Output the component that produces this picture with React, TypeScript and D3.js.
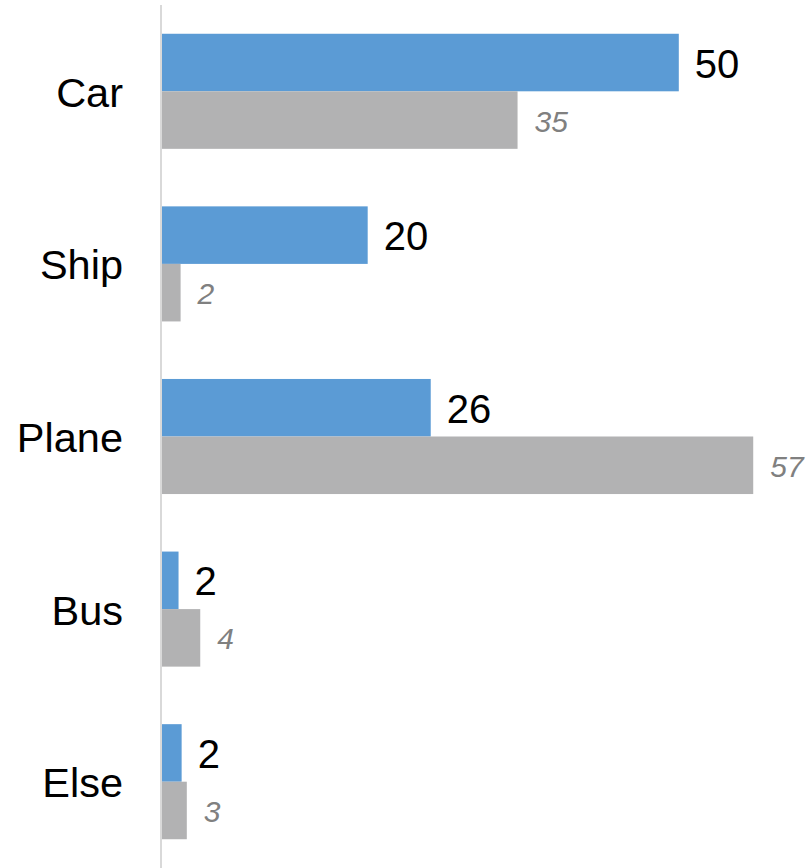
import React from "react";
import * as d3 from "d3";

const categories = ["Car", "Ship", "Plane", "Bus", "Else"];
const primaryValues = [50, 19.9, 26, 1.6, 1.9];
const primaryLabels = ["50", "20", "26", "2", "2"];
const secondaryValues = [34.4, 1.8, 57.2, 3.7, 2.4];
const secondaryLabels = ["35", "2", "57", "4", "3"];

const W = 808;
const H = 868;
const FONT = "'Liberation Sans', Arial, sans-serif";

export default function App() {
  const y = d3
    .scaleBand<string>()
    .domain(categories)
    .range([5, 868])
    .paddingInner(1 / 3)
    .paddingOuter(1 / 6);
  const x = d3.scaleLinear().domain([0, 62.5]).range([162, 808]);
  const bh = y.bandwidth() / 2;

  return (
    <div style={{ position: "absolute", left: 0, top: 0 }}>
      <svg width={W} height={H} style={{ display: "block", background: "#fff" }}>
        {categories.map((c, i) => {
          const y0 = y(c) as number;
          return (
            <g key={c}>
              <rect x={x(0)} y={y0} width={x(primaryValues[i]) - x(0)} height={bh} fill="#5b9bd5" />
              <rect x={x(0)} y={y0 + bh} width={x(secondaryValues[i]) - x(0)} height={bh} fill="#b2b2b3" />
              <text
                x={x(primaryValues[i]) + 16}
                y={y0 + bh / 2 + 1}
                dominantBaseline="central"
                fontFamily={FONT}
                fontSize={40}
                fill="#000"
              >
                {primaryLabels[i]}
              </text>
              <text
                x={x(secondaryValues[i]) + 17}
                y={y0 + bh * 1.5 + 1}
                dominantBaseline="central"
                fontFamily={FONT}
                fontSize={30}
                fontStyle="italic"
                fill="#808080"
              >
                {secondaryLabels[i]}
              </text>
              <text
                x={123}
                y={y0 + bh + 1}
                dominantBaseline="central"
                textAnchor="end"
                fontFamily={FONT}
                fontSize={41.5}
                fill="#000"
              >
                {c}
              </text>
            </g>
          );
        })}
        <line x1={161} x2={161} y1={5} y2={868} stroke="#d9d9d9" strokeWidth={2} />
      </svg>
    </div>
  );
}
